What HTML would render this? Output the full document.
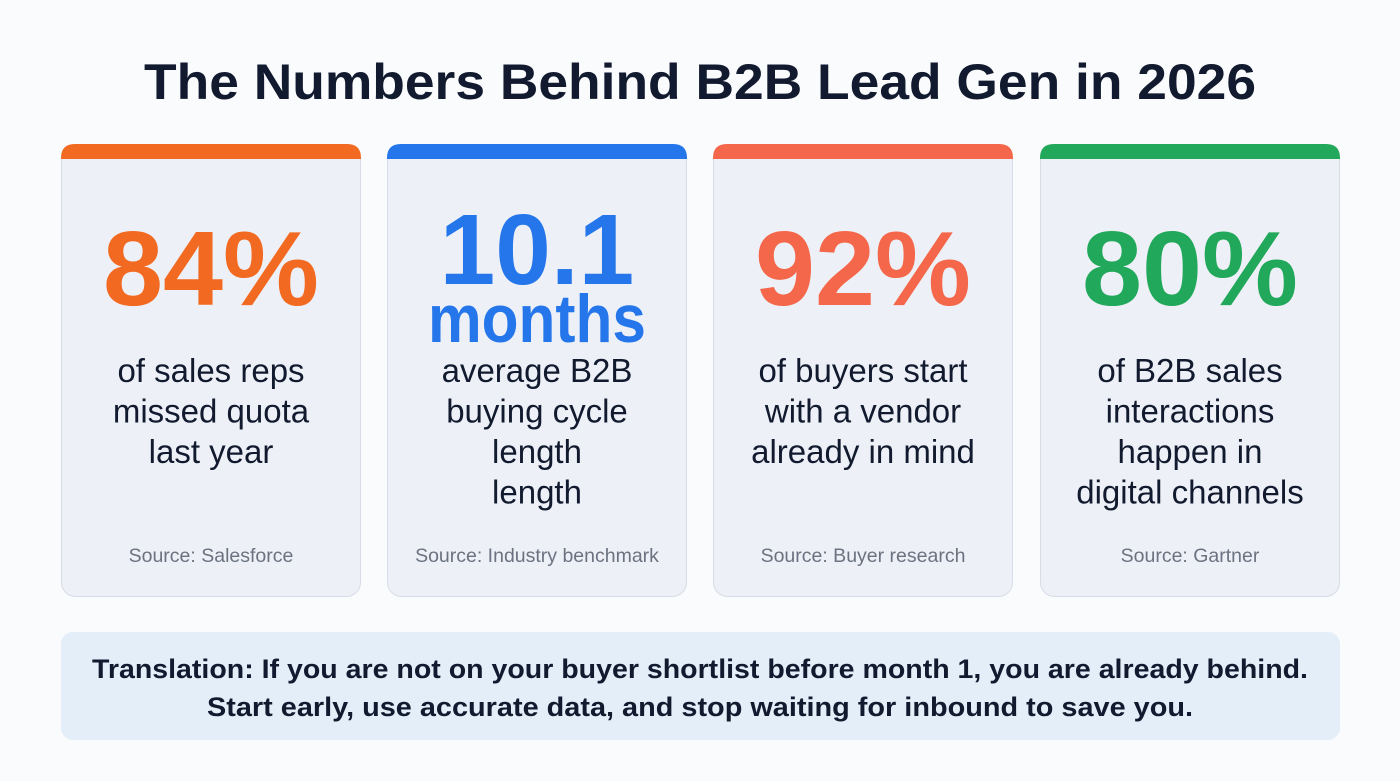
<!DOCTYPE html>
<html><head><meta charset="utf-8"><style>
html,body{margin:0;padding:0;background:#fafbfd;}
svg{display:block;font-family:"Liberation Sans",sans-serif;}
</style></head><body>
<svg width="1400" height="781" viewBox="0 0 1400 781">
<rect width="1400" height="781" fill="#fafbfd"/>
<text x="700" y="99" text-anchor="middle" font-size="50" font-weight="bold" fill="#111a2e" textLength="1112" lengthAdjust="spacingAndGlyphs">The Numbers Behind B2B Lead Gen in 2026</text>
<g id="cards"></g>
<rect x="61" y="632" width="1279" height="108" rx="12" fill="#e4eef9"/>
<text x="700" y="678" text-anchor="middle" font-size="27" font-weight="bold" fill="#111a2e" textLength="1216" lengthAdjust="spacingAndGlyphs">Translation: If you are not on your buyer shortlist before month 1, you are already behind.</text>
<text x="700" y="716" text-anchor="middle" font-size="27" font-weight="bold" fill="#111a2e" textLength="986" lengthAdjust="spacingAndGlyphs">Start early, use accurate data, and stop waiting for inbound to save you.</text>
</svg>
<script>
const cardX=[61,387,713,1040];
const colors=['#f26a21','#2476ea','#f4674a','#22a85a'];
const bigLines=[['84%'],['10.1','months'],['92%'],['80%']];
const descs=[['of sales reps','missed quota','last year'],['average B2B','buying cycle','length','length'],['of buyers start','with a vendor','already in mind'],['of B2B sales','interactions','happen in','digital channels']];
const sources=['Source: Salesforce','Source: Industry benchmark','Source: Buyer research','Source: Gartner'];
const NS='http://www.w3.org/2000/svg';
const g=document.getElementById('cards');
function mk(tag,attrs,parent){const e=document.createElementNS(NS,tag);for(const k in attrs)e.setAttribute(k,attrs[k]);parent.appendChild(e);return e;}
cardX.forEach((x,i)=>{
  const cg=mk('g',{},g);
  
  
  const r=mk('rect',{x:x+0.5,y:144.5,width:299,height:452,rx:14,fill:'#eef0f7',stroke:'#d8dce6','stroke-width':1},cg);
  
  
  const bar=mk('path',{d:`M${x} 159 V158 Q${x} 144 ${x+14} 144 H${x+286} Q${x+300} 144 ${x+300} 158 V159 Z`,fill:colors[i]},cg);
  
  
  const cx=x+150;
  if(bigLines[i].length===1){
    const t=mk('text',{x:cx,y:305,'text-anchor':'middle','font-size':106,'font-weight':'bold',fill:colors[i],textLength:216,lengthAdjust:'spacingAndGlyphs'},cg);
    t.textContent=bigLines[i][0];
    
    
  } else {
    const t=mk('text',{x:cx,y:284,'text-anchor':'middle','font-size':100,'font-weight':'bold',fill:colors[i]},cg);
    t.textContent=bigLines[i][0];
    
    
    const t2=mk('text',{x:cx,y:342,'text-anchor':'middle','font-size':68,'font-weight':'bold',fill:colors[i],textLength:218,lengthAdjust:'spacingAndGlyphs'},cg);
    t2.textContent=bigLines[i][1];
    
    
  }
  descs[i].forEach((line,j)=>{
    const d=mk('text',{x:cx,y:382+j*40.5,'text-anchor':'middle','font-size':33,fill:'#111a2e'},cg);
    d.textContent=line;
    
    
  });
  const s=mk('text',{x:cx,y:562,'text-anchor':'middle','font-size':19.5,fill:'#6b7280'},cg);
  s.textContent=sources[i];
  
  
});
</script>
</body></html>
